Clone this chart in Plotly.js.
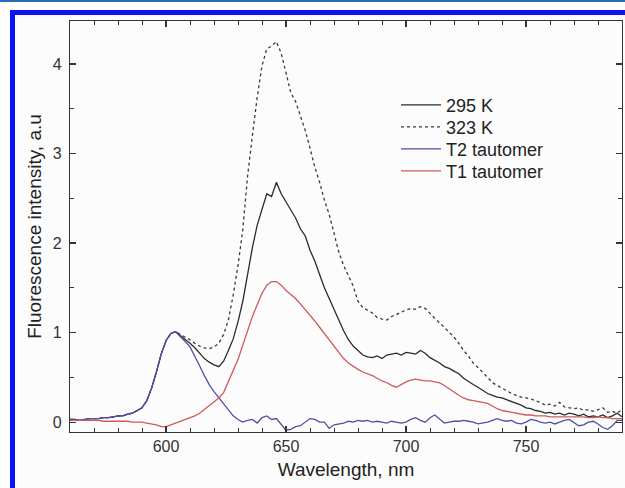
<!DOCTYPE html>
<html>
<head>
<meta charset="utf-8">
<script src="https://cdn.plot.ly/plotly-3.0.1.min.js"></script>
<style>
  html, body { margin: 0; padding: 0; background: #ffffff; }
  #wrap { position: relative; width: 625px; height: 488px; overflow: hidden; }
  #chart { position: absolute; left: 0; top: 0; width: 625px; height: 488px; }
  .deco { position: absolute; pointer-events: none; }
</style>
</head>
<body>
<div id="wrap">
  <div id="chart"></div>
  <div class="deco" style="left:0;top:0;width:625px;height:10px;background:#ffffff;"></div>
  <div class="deco" style="left:0;top:0;width:10px;height:488px;background:#ffffff;"></div>
  <div class="deco" style="left:0;top:0;width:625px;height:2px;background:#2a6cb0;"></div>
  <div class="deco" style="left:10px;top:10px;width:615px;height:5px;background:#0a14f0;"></div>
  <div class="deco" style="left:10px;top:10px;width:5px;height:478px;background:#0a14f0;"></div>
</div>
<script>
// Wavelength grid (nm)
const wavelength = [560,562,564,566,568,570,572,574,576,578,580,582,584,586,588,590,592,594,596,598,
600,602,604,606,608,610,612,614,616,618,620,622,624,626,628,630,632,634,636,638,
640,642,644,646,648,650,652,654,656,658,660,662,664,666,668,670,672,674,676,678,
680,682,684,686,688,690,692,694,696,698,700,702,704,706,708,710,712,714,716,718,
720,722,724,726,728,730,732,734,736,738,740,742,744,746,748,750,752,754,756,758,
760,762,764,766,768,770,772,774,776,778,780,782,784,786,788,790];

const seriesNames = ["295 K", "323 K", "T2 tautomer", "T1 tautomer"];

const k295 = [0.03,0.03,0.02,0.03,0.04,0.04,0.04,0.05,0.05,0.06,0.07,0.07,0.09,0.10,0.13,0.16,0.24,0.38,0.56,0.76,
0.91,0.99,1.01,0.97,0.93,0.88,0.83,0.77,0.71,0.67,0.64,0.62,0.68,0.80,0.93,1.12,1.35,1.65,1.95,2.20,
2.38,2.55,2.52,2.68,2.55,2.46,2.38,2.28,2.16,2.08,1.92,1.80,1.65,1.50,1.38,1.26,1.12,1.02,0.92,0.85,
0.80,0.75,0.73,0.72,0.74,0.71,0.75,0.76,0.77,0.75,0.78,0.77,0.76,0.80,0.77,0.72,0.69,0.66,0.62,0.60,
0.57,0.54,0.49,0.45,0.42,0.39,0.35,0.32,0.30,0.28,0.27,0.25,0.23,0.21,0.19,0.16,0.15,0.13,0.12,0.10,
0.11,0.09,0.10,0.08,0.10,0.09,0.07,0.09,0.06,0.07,0.06,0.08,0.05,0.07,0.10,0.06];

const k323 = [0.03,0.03,0.02,0.03,0.04,0.04,0.04,0.05,0.05,0.06,0.07,0.07,0.09,0.10,0.13,0.16,0.24,0.38,0.56,0.76,
0.91,0.99,1.01,0.98,0.95,0.92,0.88,0.85,0.83,0.82,0.84,0.88,0.98,1.14,1.42,1.75,2.15,2.75,3.20,3.63,
3.98,4.17,4.20,4.25,4.12,3.90,3.68,3.58,3.42,3.26,3.06,2.85,2.68,2.48,2.32,2.12,1.90,1.75,1.63,1.52,
1.35,1.28,1.25,1.22,1.17,1.15,1.14,1.18,1.20,1.23,1.25,1.27,1.26,1.29,1.27,1.21,1.16,1.11,1.06,1.00,
0.95,0.88,0.80,0.74,0.66,0.61,0.56,0.50,0.44,0.41,0.38,0.35,0.32,0.30,0.28,0.27,0.26,0.24,0.22,0.19,
0.20,0.18,0.22,0.17,0.16,0.15,0.16,0.13,0.14,0.12,0.14,0.16,0.11,0.12,0.10,0.14];

const t2 = [0.03,0.03,0.02,0.03,0.04,0.04,0.04,0.05,0.05,0.06,0.07,0.07,0.09,0.10,0.13,0.16,0.24,0.38,0.56,0.76,
0.91,0.99,1.01,0.96,0.90,0.84,0.74,0.63,0.52,0.42,0.34,0.27,0.20,0.14,0.07,0.03,0.00,0.02,0.03,-0.01,
0.05,0.07,0.03,0.04,-0.03,-0.09,-0.08,-0.05,-0.04,0.00,0.04,0.03,0.00,0.00,-0.07,-0.03,-0.02,-0.01,0.01,0.00,
0.02,0.01,0.02,0.00,0.01,0.00,-0.01,0.01,0.00,-0.01,0.00,0.03,0.05,0.02,0.00,0.05,0.08,0.04,-0.01,0.00,
0.01,0.01,0.02,0.01,0.00,-0.02,-0.01,0.00,0.02,0.04,0.02,0.01,0.02,-0.01,-0.02,0.00,0.03,0.02,0.00,-0.01,
0.00,-0.02,0.00,0.02,0.03,-0.01,-0.04,-0.03,0.00,0.01,-0.02,-0.06,-0.08,-0.04,0.02,0.02];

const t1 = [0.02,0.02,0.02,0.02,0.02,0.02,0.02,0.01,0.01,0.01,0.01,0.01,0.01,0.00,0.00,0.00,-0.01,-0.02,-0.03,-0.05,
-0.05,-0.03,-0.01,0.01,0.03,0.05,0.07,0.10,0.14,0.18,0.22,0.27,0.33,0.45,0.57,0.70,0.86,1.02,1.18,1.31,
1.44,1.53,1.57,1.57,1.53,1.47,1.43,1.38,1.32,1.26,1.19,1.13,1.06,0.99,0.92,0.85,0.78,0.71,0.66,0.62,
0.59,0.56,0.54,0.52,0.49,0.46,0.44,0.41,0.39,0.42,0.45,0.47,0.48,0.47,0.46,0.46,0.45,0.44,0.41,0.37,
0.33,0.30,0.27,0.25,0.24,0.23,0.22,0.21,0.18,0.15,0.13,0.12,0.11,0.10,0.09,0.08,0.08,0.07,0.07,0.07,
0.06,0.06,0.06,0.06,0.06,0.06,0.06,0.06,0.05,0.05,0.06,0.05,0.05,0.04,0.04,0.04];

const xTickVals = [600, 650, 700, 750];
const yTickVals = [0, 1, 2, 3, 4];

const FONT = "Liberation Sans, Arial, sans-serif";

const traces = [
  {x: wavelength, y: k295, name: seriesNames[0], mode: "lines", legend: "legend",
   line: {color: "#2b2b2b", width: 1.3}},
  {x: wavelength, y: k323, name: seriesNames[1], mode: "lines", legend: "legend2",
   line: {color: "#3a3a3a", width: 1.3, dash: "dot"}},
  {x: wavelength, y: t2, name: seriesNames[2], mode: "lines", legend: "legend3",
   line: {color: "#4f4fa8", width: 1.3}},
  {x: wavelength, y: t1, name: seriesNames[3], mode: "lines", legend: "legend4",
   line: {color: "#d05a5a", width: 1.3}}
];

const axisCommon = {
  showline: true, linecolor: "#333", linewidth: 1.2, mirror: "ticks",
  ticks: "inside", ticklen: 6, tickwidth: 1.2, tickcolor: "#333",
  showgrid: false, zeroline: false,
  tickfont: {family: FONT, size: 16, color: "#333"}
};

function legendAt(yPos) {
  return {x: 0.5906, y: yPos, xanchor: "left", yanchor: "top",
          bgcolor: "rgba(0,0,0,0)", borderwidth: 0,
          font: {family: FONT, size: 18, color: "#222"}, itemwidth: 40};
}

const layout = {
  width: 625, height: 488,
  margin: {l: 70, r: 3, t: 21, b: 56},
  paper_bgcolor: "#fcfcfc", plot_bgcolor: "#fcfcfc",
  showlegend: true,
  legend: legendAt(0.840),
  legend2: legendAt(0.7866),
  legend3: legendAt(0.7333),
  legend4: legendAt(0.6796),
  xaxis: Object.assign({}, axisCommon, {
    range: [560, 790], tickmode: "array", tickvals: xTickVals,
    minor: {dtick: 10, tick0: 560, ticks: "inside", ticklen: 4, tickwidth: 1, tickcolor: "#333"},
    title: {text: "Wavelength, nm", font: {family: FONT, size: 19, color: "#222"}, standoff: 8}
  }),
  yaxis: Object.assign({}, axisCommon, {
    range: [-0.11, 4.48], tickmode: "array", tickvals: yTickVals, ticklabelstandoff: 4,
    minor: {dtick: 0.5, tick0: 0, ticks: "inside", ticklen: 4, tickwidth: 1, tickcolor: "#333"},
    title: {text: "Fluorescence intensity, a.u", font: {family: FONT, size: 19, color: "#222"}, standoff: 6}
  })
};

Plotly.newPlot("chart", traces, layout, {displayModeBar: false, staticPlot: true});
</script>
</body>
</html>
